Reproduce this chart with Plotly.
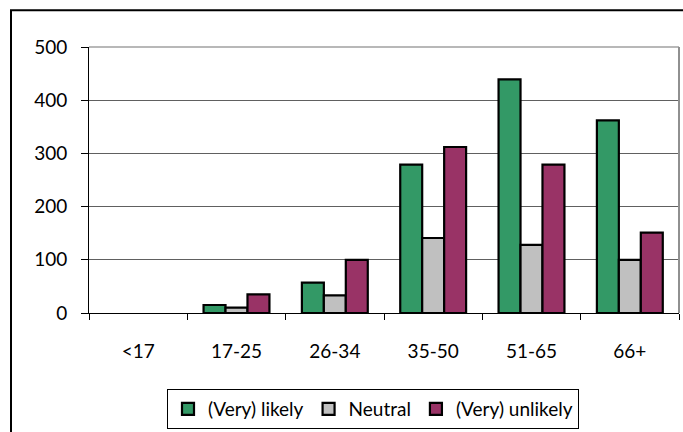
import plotly.graph_objects as go

# Age groups and response counts (no responses recorded for the youngest group)
age_groups = ["<17", "17-25", "26-34", "35-50", "51-65", "66+"]
very_likely = [None, 15, 57, 279, 439, 362]
neutral = [None, 10, 33, 141, 128, 100]
very_unlikely = [None, 35, 100, 312, 279, 151]

series = [
    ("(Very) likely", very_likely, "#339966"),
    ("Neutral", neutral, "#C0C0C0"),
    ("(Very) unlikely", very_unlikely, "#993366"),
]

FONT = "Lato, Calibri, Carlito, sans-serif"

fig = go.Figure()
for name, vals, color in series:
    fig.add_trace(go.Bar(
        x=age_groups, y=vals, name=name,
        marker=dict(color=color, line=dict(color="#000000", width=2.2)),
    ))

W, H = 683, 432
L, R, T, B = 89, 4, 47, 118
pw, ph = W - L - R, H - T - B


def px_x(p):
    return (p - L) / pw


def px_y(p):
    return (H - B - p) / ph


fig.update_layout(
    width=W, height=H,
    margin=dict(l=L, r=R, t=T, b=B),
    paper_bgcolor="white", plot_bgcolor="white",
    font=dict(family=FONT, size=19, color="black"),
    barmode="group", bargap=0.33, bargroupgap=0,
    showlegend=True,
    legend=dict(
        orientation="h", x=px_x(167), y=px_y(389), xanchor="left", yanchor="top",
        bordercolor="black", borderwidth=1, bgcolor="white",
        font=dict(family=FONT, size=19),
        itemwidth=30, tracegroupgap=0,
    ),
    xaxis=dict(
        type="category", showline=True, linecolor="black", linewidth=1,
        ticks="outside", tickson="boundaries", ticklen=6, tickcolor="black",
        showgrid=False, tickfont=dict(size=19), ticklabelstandoff=21,
    ),
    yaxis=dict(
        range=[0, 500], dtick=100, showline=True, linecolor="black", linewidth=1,
        ticks="outside", ticklen=7, tickcolor="black",
        gridcolor="#606060", gridwidth=1, zeroline=False,
        tickfont=dict(size=19), ticklabelstandoff=10,
    ),
    shapes=[
        # plot area frame on top and right
        dict(type="line", xref="paper", yref="paper", x0=0, x1=1, y0=1, y1=1,
             line=dict(color="#A0A0A0", width=1.5)),
        dict(type="line", xref="paper", yref="paper", x0=1, x1=1, y0=0, y1=1,
             line=dict(color="#909090", width=2)),
        # chart frame
        dict(type="rect", xref="paper", yref="paper",
             x0=px_x(11), x1=px_x(700), y0=px_y(10), y1=px_y(450),
             line=dict(color="black", width=2), layer="above"),
    ],
)

fig.write_html("out.html")
